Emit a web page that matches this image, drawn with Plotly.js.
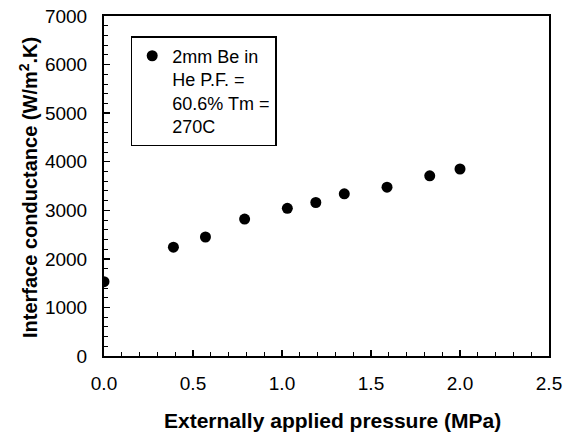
<!DOCTYPE html>
<html>
<head>
<meta charset="utf-8">
<script src="https://cdn.plot.ly/plotly-3.0.1.min.js"></script>
<style>html,body{margin:0;padding:0;background:#fff;}#chart{width:565px;height:435px;}</style>
</head>
<body>
<div id="chart"></div>
<script>
var pressure = [0.0, 0.39, 0.57, 0.79, 1.03, 1.19, 1.35, 1.59, 1.83, 2.0];
var conductance = [1530, 2240, 2450, 2820, 3040, 3160, 3340, 3475, 3710, 3850];
var seriesName = "2mm Be in<br>He P.F. =<br>60.6% Tm =<br>270C";
var xTickVals = [0, 0.5, 1.0, 1.5, 2.0, 2.5];
var xTickText = ["0.0", "0.5", "1.0", "1.5", "2.0", "2.5"];
var xTitle = "<b>Externally applied pressure (MPa)</b>";
var yTitle = "<b>Interface conductance (W/m<sup>2</sup>.K)</b>";

var font = "Liberation Sans, Arial, Helvetica, sans-serif";
var trace = {
  x: pressure, y: conductance, type: "scatter", mode: "markers",
  name: seriesName,
  marker: {color: "#000", size: 11}
};
var layout = {
  width: 565, height: 435,
  margin: {l: 104, r: 16, t: 16, b: 79},
  paper_bgcolor: "#fff", plot_bgcolor: "#fff",
  font: {family: font, size: 18, color: "#000"},
  showlegend: true,
  legend: {
    x: 0.06, y: 0.941, xanchor: "left", yanchor: "top",
    bordercolor: "#000", borderwidth: 1.5, bgcolor: "#fff",
    valign: "top", font: {family: font, size: 18, color: "#000"}
  },
  xaxis: {
    range: [0, 2.5], tickvals: xTickVals, ticktext: xTickText,
    ticks: "inside", ticklen: 6, tickwidth: 1.5, tickcolor: "#000",
    minor: {dtick: 0.1, ticks: "inside", ticklen: 4, tickcolor: "#000", tickwidth: 1},
    showgrid: false, zeroline: false,
    showline: true, linecolor: "#000", linewidth: 2, mirror: true,
    tickfont: {size: 19}, ticklabelstandoff: 9
  },
  yaxis: {
    range: [0, 7000], dtick: 1000,
    ticks: "inside", ticklen: 6, tickwidth: 1.5, tickcolor: "#000",
    minor: {dtick: 200, ticks: "inside", ticklen: 4, tickcolor: "#000", tickwidth: 1},
    showgrid: false, zeroline: false,
    showline: true, linecolor: "#000", linewidth: 2, mirror: true,
    tickfont: {size: 19}, ticklabelstandoff: 11
  },
  annotations: [
    {text: xTitle, xref: "paper", yref: "paper", x: 0.5, y: 0, xanchor: "center", yanchor: "middle",
     xshift: 6, yshift: -64, showarrow: false, font: {size: 21}},
    {text: yTitle, xref: "paper", yref: "paper", x: 0, y: 0.5, xanchor: "center", yanchor: "middle",
     xshift: -76, yshift: -2, textangle: -90, showarrow: false, font: {size: 20}}
  ]
};
Plotly.newPlot("chart", [trace], layout, {displayModeBar: false, staticPlot: true});
</script>
</body>
</html>
